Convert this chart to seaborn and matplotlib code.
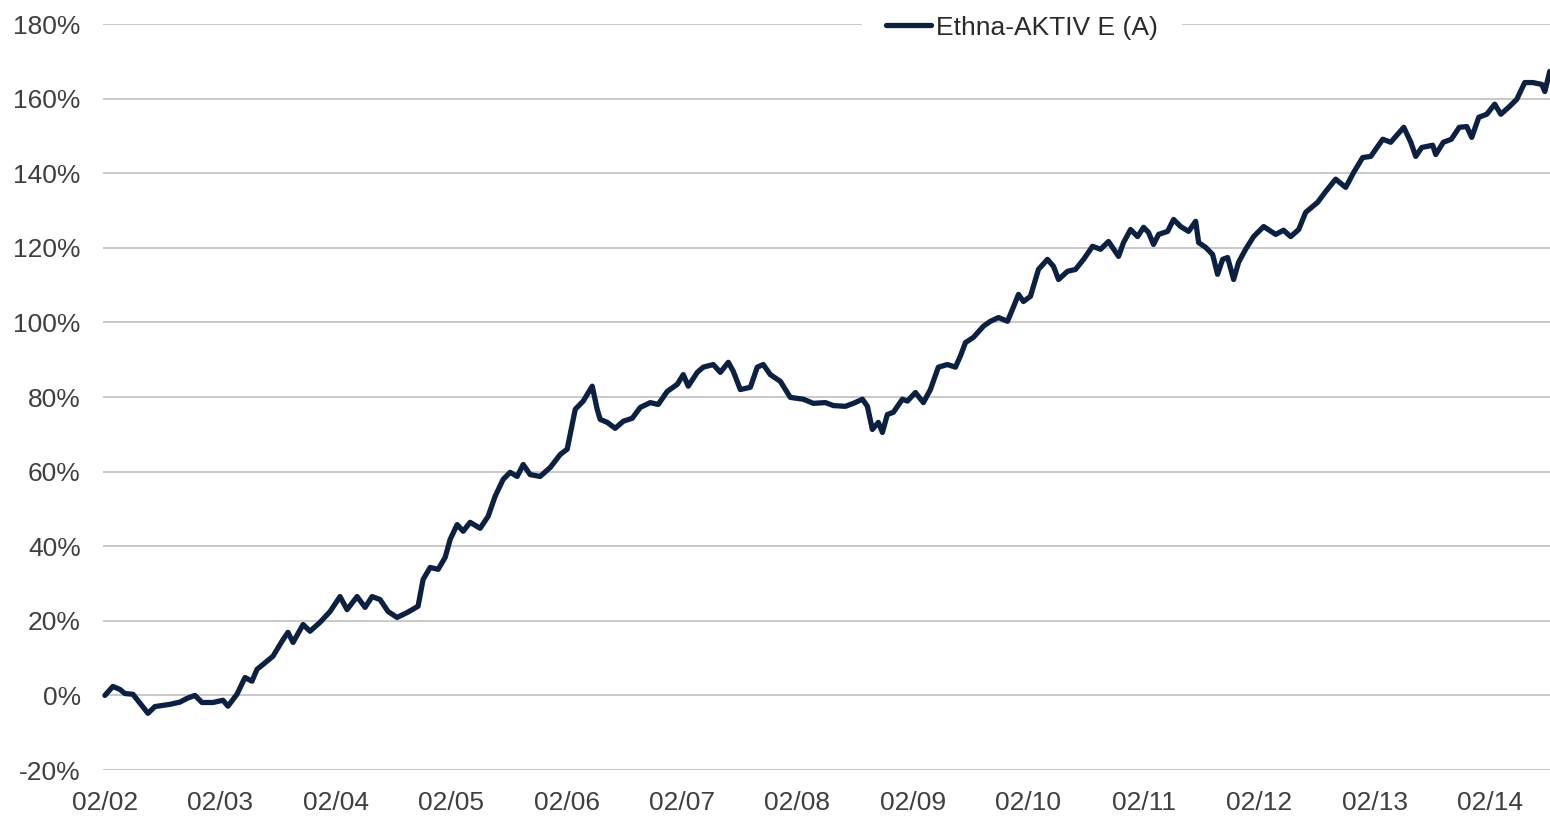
import numpy as np
import pandas as pd
import matplotlib
matplotlib.use("Agg")
import matplotlib.pyplot as plt
import matplotlib.dates as mdates
import seaborn as sns

# years after Feb 2002 and performance in %
years = [0.000, 0.069, 0.130, 0.173, 0.243, 0.373, 0.433, 0.563, 0.650, 0.711,
         0.780, 0.841, 0.937, 1.023, 1.066, 1.144, 1.214, 1.274, 1.318, 1.370,
         1.456, 1.534, 1.586, 1.630, 1.717, 1.777, 1.864, 1.951, 2.037, 2.098,
         2.185, 2.254, 2.315, 2.384, 2.453, 2.531, 2.618, 2.713, 2.757, 2.818,
         2.887, 2.948, 2.991, 3.052, 3.104, 3.164, 3.251, 3.320, 3.381, 3.450,
         3.511, 3.572, 3.624, 3.684, 3.771, 3.858, 3.945, 4.005, 4.075, 4.144,
         4.222, 4.265, 4.291, 4.352, 4.421, 4.491, 4.569, 4.638, 4.725, 4.794,
         4.872, 4.959, 5.011, 5.054, 5.132, 5.184, 5.271, 5.332, 5.401, 5.444,
         5.505, 5.592, 5.652, 5.704, 5.765, 5.852, 5.938, 6.051, 6.138, 6.242,
         6.311, 6.415, 6.485, 6.563, 6.606, 6.649, 6.701, 6.736, 6.779, 6.831,
         6.909, 6.953, 7.022, 7.091, 7.152, 7.221, 7.299, 7.369, 7.412, 7.456,
         7.525, 7.612, 7.672, 7.742, 7.820, 7.863, 7.915, 7.958, 8.019, 8.088,
         8.166, 8.219, 8.262, 8.340, 8.409, 8.479, 8.557, 8.626, 8.695, 8.782,
         8.825, 8.886, 8.947, 8.999, 9.042, 9.085, 9.129, 9.207, 9.259, 9.320,
         9.389, 9.450, 9.476, 9.537, 9.597, 9.640, 9.684, 9.727, 9.779, 9.822,
         9.883, 9.952, 10.039, 10.143, 10.212, 10.273, 10.343, 10.403, 10.507, 10.577,
         10.663, 10.750, 10.819, 10.897, 10.967, 11.071, 11.140, 11.253, 11.314, 11.357,
         11.409, 11.504, 11.530, 11.596, 11.665, 11.734, 11.799, 11.842, 11.903, 11.972,
         12.041, 12.094, 12.163, 12.232, 12.301, 12.371, 12.449, 12.475, 12.518]
perf = [0.0, 2.4, 1.6, 0.5, 0.3, -4.8, -3.0, -2.4, -1.8, -0.8,
        0.0, -1.9, -1.9, -1.3, -2.9, 0.3, 4.8, 3.8, 7.0, 8.3,
        10.5, 14.5, 16.9, 14.2, 19.0, 17.2, 19.6, 22.5, 26.5, 23.0,
        26.5, 23.6, 26.5, 25.7, 22.5, 20.9, 22.2, 23.9, 31.1, 34.3,
        33.8, 37.0, 41.8, 45.8, 44.0, 46.4, 44.8, 48.0, 53.4, 57.9,
        59.8, 58.7, 61.9, 59.2, 58.7, 61.1, 64.6, 66.0, 76.7, 78.9,
        82.9, 76.7, 74.0, 73.2, 71.6, 73.5, 74.3, 77.2, 78.5, 78.0,
        81.5, 83.4, 86.0, 82.9, 86.6, 88.0, 88.7, 86.6, 89.3, 86.9,
        82.0, 82.6, 88.0, 88.7, 86.0, 84.2, 79.9, 79.4, 78.3, 78.5,
        77.7, 77.5, 78.3, 79.4, 77.5, 71.3, 73.2, 70.5, 75.3, 75.9,
        79.4, 78.9, 81.2, 78.5, 82.0, 88.0, 88.7, 88.0, 91.0, 94.6,
        96.0, 99.0, 100.3, 101.3, 100.3, 103.5, 107.5, 105.6, 107.0, 114.2,
        116.9, 115.0, 111.5, 113.7, 114.2, 116.9, 120.4, 119.6, 121.7, 117.7,
        121.4, 124.9, 123.0, 125.5, 124.1, 120.9, 123.6, 124.4, 127.6, 125.7,
        124.4, 127.1, 121.4, 120.1, 118.2, 112.9, 116.9, 117.4, 111.5, 116.1,
        119.6, 123.0, 125.7, 123.6, 124.7, 123.0, 124.9, 129.5, 132.2, 135.1,
        138.4, 136.2, 140.2, 144.2, 144.5, 149.1, 148.3, 152.3, 148.3, 144.5,
        146.9, 147.5, 145.0, 148.3, 149.1, 152.3, 152.5, 149.6, 155.0, 155.8,
        158.5, 155.8, 157.7, 159.8, 164.3, 164.3, 163.8, 161.9, 167.3]
series_name = "Ethna-AKTIV E (A)"
y_ticks = [-20, 0, 20, 40, 60, 80, 100, 120, 140, 160, 180]

start = pd.Timestamp("2002-02-01")
df = pd.DataFrame({
    "date": start + pd.to_timedelta(np.array(years) * 365.25, unit="D"),
    "perf": perf,
})

sns.set_style("white")
plt.rcParams["font.family"] = ["Liberation Sans", "DejaVu Sans"]

fig = plt.figure(figsize=(15.5, 8.17), dpi=100)
ax = fig.add_axes([103 / 1550, 1 - 770 / 817, 1 - 103 / 1550, (770 - 24) / 817])

sns.lineplot(data=df, x="date", y="perf", ax=ax, color="#0c2142",
             linewidth=3.8, label=series_name, clip_on=False, zorder=3)

ax.set_ylim(-20, 180)
ax.set_xlim(start - pd.Timedelta(days=6), start + pd.Timedelta(days=12.52 * 365.25))
ax.set_yticks(y_ticks)
ax.set_yticklabels([f"{v}%" for v in y_ticks])
ax.xaxis.set_major_locator(mdates.MonthLocator(bymonth=2, bymonthday=1))
ax.xaxis.set_major_formatter(mdates.DateFormatter("%m/%y"))
ax.set_xlabel("")
ax.set_ylabel("")

ax.grid(axis="y", color="#c9c9c9", linewidth=1.4)
ax.grid(axis="x", visible=False)
ax.set_axisbelow(True)
for s in ax.spines.values():
    s.set_visible(False)
ax.tick_params(axis="y", length=0, pad=16, labelsize=19, labelcolor="#3f3f3f")
ax.tick_params(axis="x", length=0, pad=15, labelsize=19, labelcolor="#3f3f3f")

leg = ax.legend(loc="center", bbox_to_anchor=(0.635, 0.995), frameon=True,
                fontsize=19, handlelength=1.7, handletextpad=0.2,
                borderpad=0.9, fancybox=False)
leg.get_frame().set_facecolor("white")
leg.get_frame().set_edgecolor("none")
leg.get_frame().set_alpha(1)
for t in leg.get_texts():
    t.set_color("#2b2b2b")

fig.savefig("out.png", dpi=100)
